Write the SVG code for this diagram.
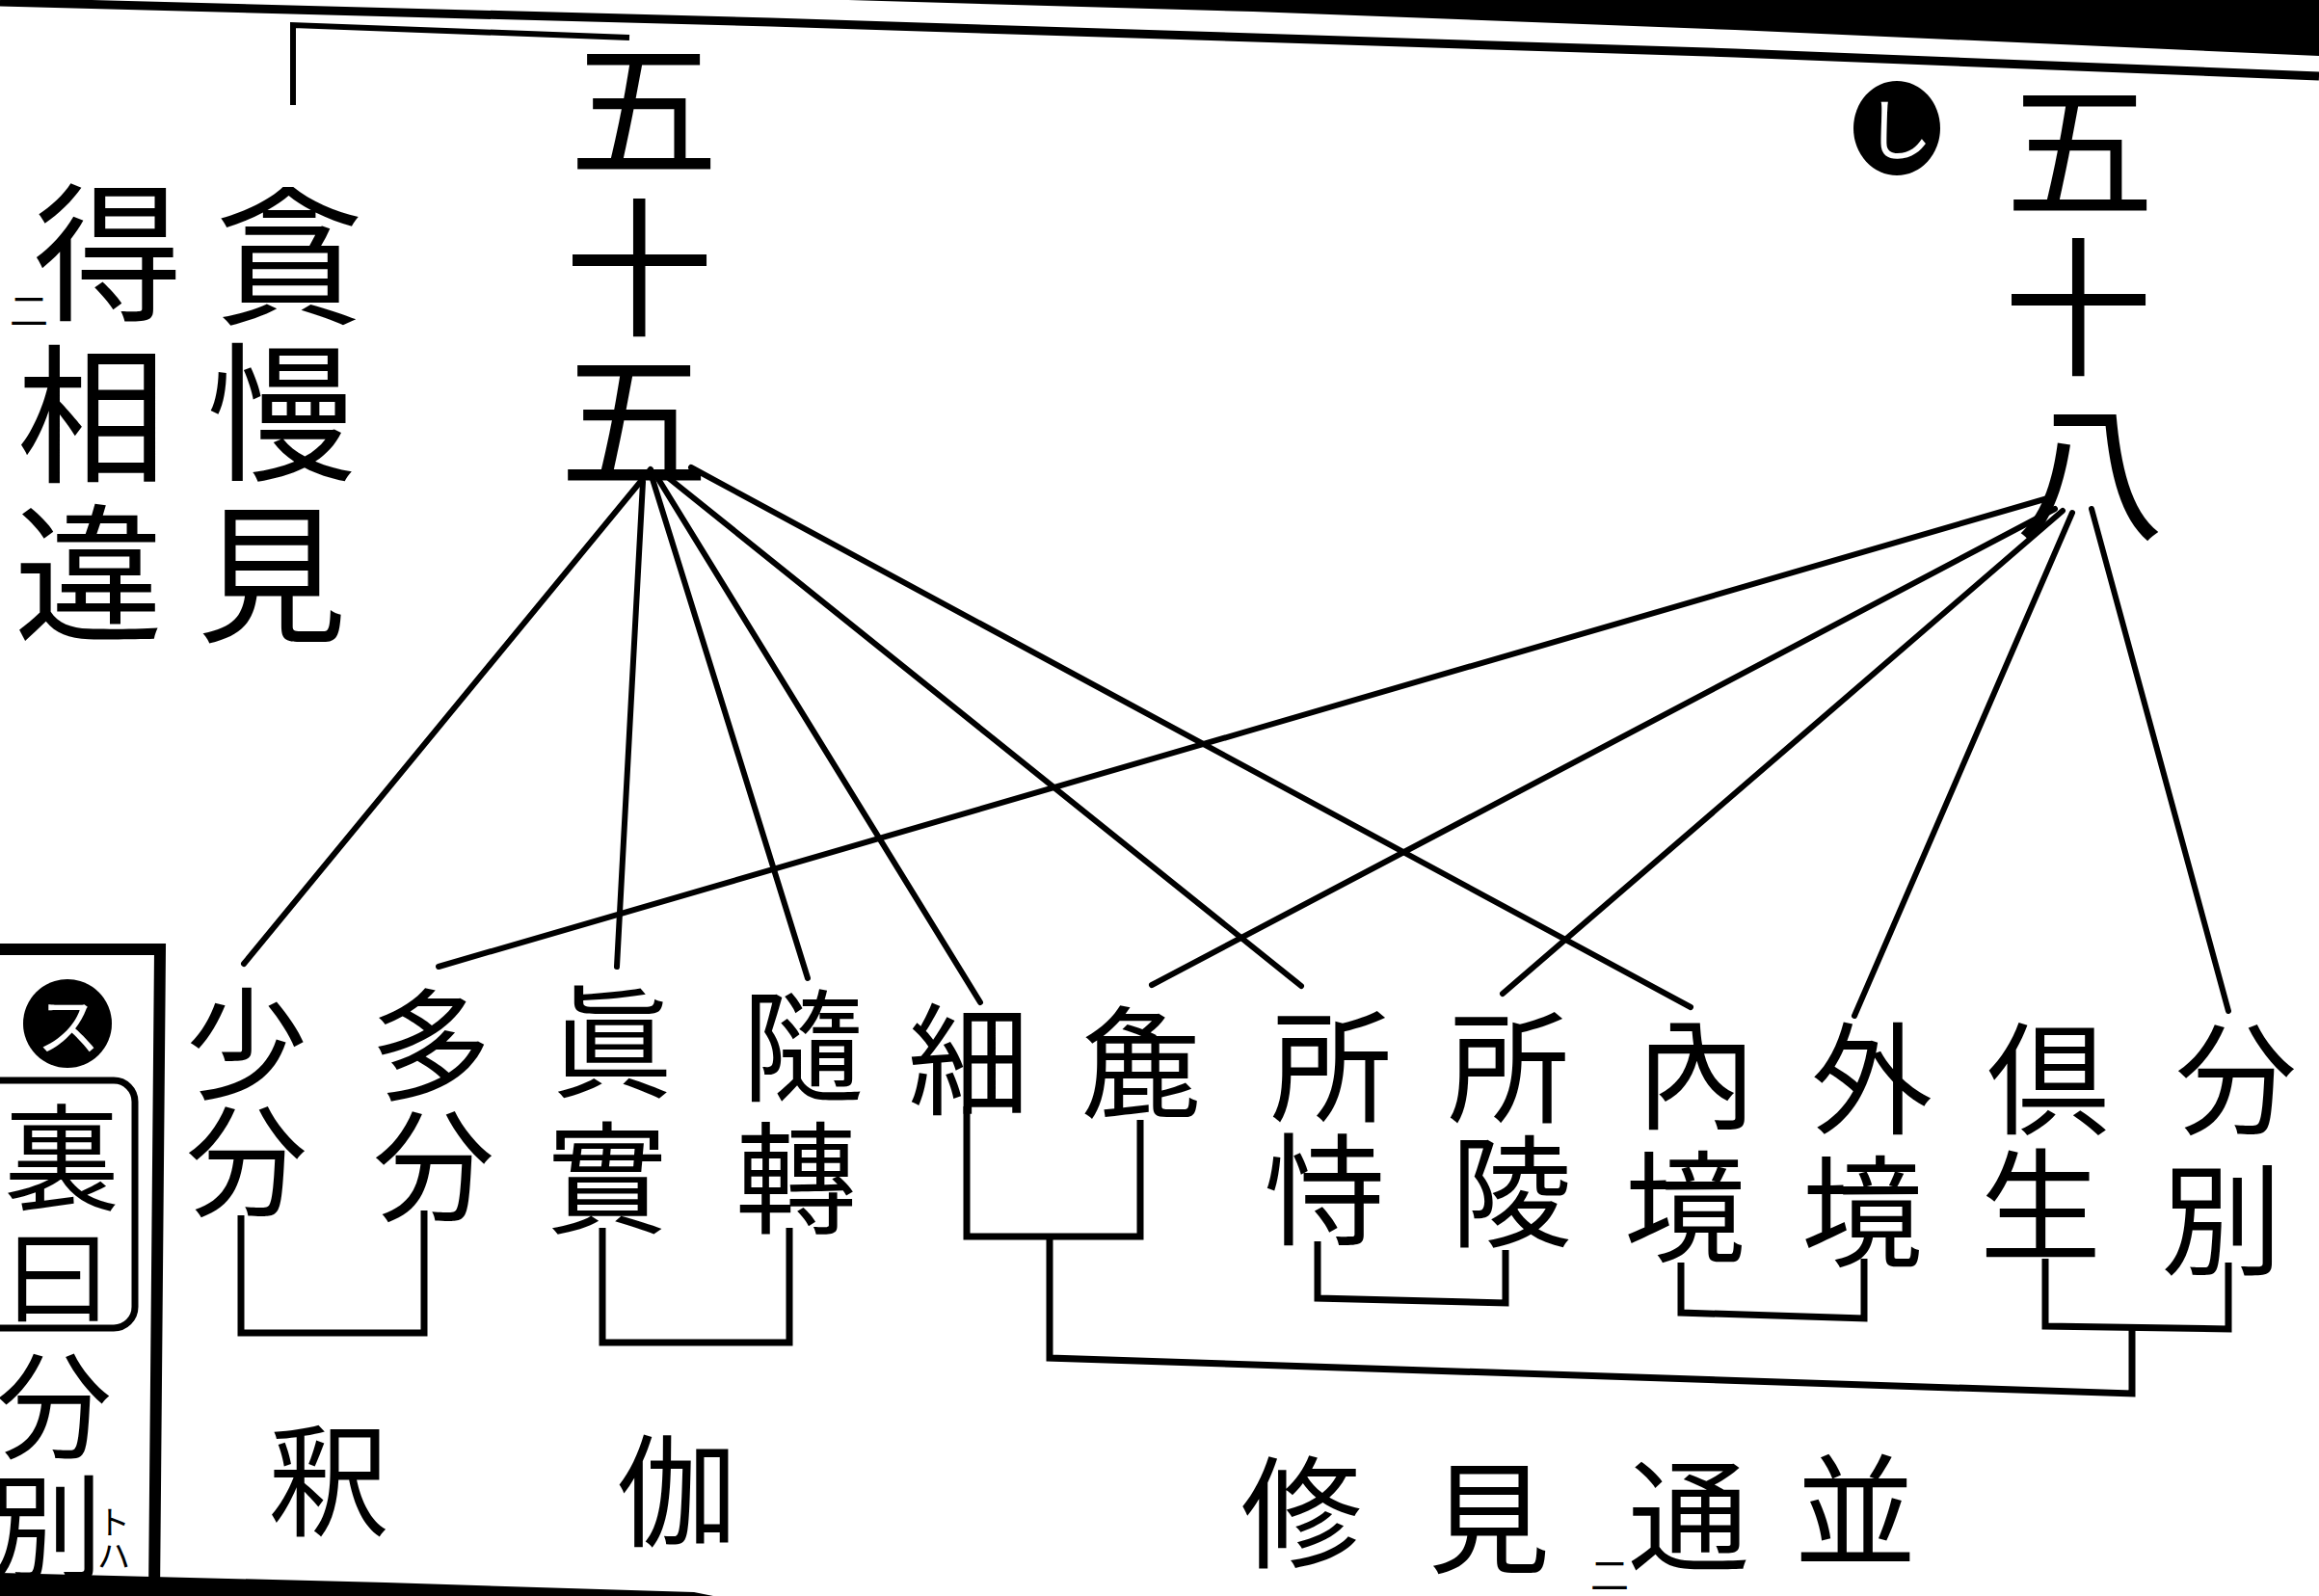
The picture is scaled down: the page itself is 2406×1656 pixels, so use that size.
<svg xmlns="http://www.w3.org/2000/svg" width="2406" height="1656" viewBox="0 0 2406 1656">
<style>
.t{font-family:"Noto Sans CJK JP","Noto Sans CJK SC",sans-serif;font-weight:400;fill:#000;text-anchor:middle;dominant-baseline:central}
.big{font-size:155px}
.lab{font-size:126px}
.sm{font-size:40px}
.ln{stroke:#000;stroke-width:6;fill:none;stroke-linecap:round}
.br{stroke:#000;stroke-width:7;fill:none;stroke-linejoin:miter}
</style>
<rect width="2406" height="1656" fill="#fff"/>
<g id="page">
<polygon points="880,0 2406,0 2406,58 1800,31 1300,12" fill="#000"/>
<polyline points="0,2 800,23 1800,55 2406,79" fill="none" stroke="#000" stroke-width="9"/>
<polygon points="0,1632 400,1642 720,1652 740,1656 0,1656" fill="#000"/>
<polyline points="304,109 304,26 653,39" fill="none" stroke="#000" stroke-width="6"/>
</g>
<g id="connectors">
<line class="ln" x1="675" y1="487" x2="253" y2="1000"/>
<line class="ln" x1="667" y1="500" x2="640" y2="1003"/>
<line class="ln" x1="677" y1="497" x2="838" y2="1015"/>
<line class="ln" x1="683" y1="497" x2="1017" y2="1040"/>
<line class="ln" x1="690" y1="493" x2="1350" y2="1023"/>
<line class="ln" x1="717" y1="485" x2="1754" y2="1045"/>
<line class="ln" x1="2128" y1="516" x2="455" y2="1003"/>
<line class="ln" x1="2132" y1="528" x2="1195" y2="1022"/>
<line class="ln" x1="2140" y1="530" x2="1559" y2="1031"/>
<line class="ln" x1="2150" y1="532" x2="1924" y2="1054"/>
<line class="ln" x1="2170" y1="528" x2="2312" y2="1049"/>
<path class="br" d="M250,1261 V1383 H440 V1256"/>
<path class="br" d="M625,1274 V1393 H819 V1274"/>
<path class="br" d="M1003,1148 V1283 H1183 V1162"/>
<path class="br" d="M1089,1283 V1409 L2212,1446 V1378"/>
<path class="br" d="M1367,1288 V1347 L1562,1352 V1297"/>
<path class="br" d="M1744,1310 V1362 L1934,1368 V1306"/>
<path class="br" d="M2122,1306 V1376 L2312,1379 V1310"/>
</g>
<g id="note-tonman">
<text class="t big" x="300" y="256">貪</text>
<text class="t big" x="292" y="418">慢</text>
<text class="t big" x="282" y="586">見</text>
</g>
<g id="note-tokuso">
<text class="t big" x="112" y="252">得</text>
<text class="t big" x="95" y="420">相</text>
<text class="t big" x="92" y="585">違</text>
<text class="t sm" x="30" y="320">二</text>
</g>
<g id="n55">
<text class="t big" x="668" y="103">五</text>
<text class="t big" x="663" y="268">十</text>
<text class="t big" x="658" y="426">五</text>
</g>
<g id="n58">
<ellipse cx="1968" cy="133" rx="45" ry="49" fill="#000"/>
<text class="t" style="font-size:70px;fill:#fff" x="1970" y="130">し</text>
<text class="t big" x="2158" y="146">五</text>
<text class="t big" x="2156" y="309">十</text>
<text class="t big" x="2168" y="480">八</text>
</g>
<g id="shobun"><text class="t lab" x="256" y="1076">少</text><text class="t lab" x="256" y="1197">分</text></g>
<g id="tabun"><text class="t lab" x="447" y="1077">多</text><text class="t lab" x="450" y="1202">分</text></g>
<g id="shinjitsu"><text class="t lab" x="635" y="1074">眞</text><text class="t lab" x="630" y="1215">實</text></g>
<g id="zuiten"><text class="t lab" x="833" y="1078">隨</text><text class="t lab" x="826" y="1215">轉</text></g>
<g id="sai"><text class="t lab" x="1005" y="1092">細</text></g>
<g id="so"><text class="t lab" x="1184" y="1095">麁</text></g>
<g id="shoji"><text class="t lab" x="1381" y="1099">所</text><text class="t lab" x="1374" y="1227">恃</text></g>
<g id="shoryo"><text class="t lab" x="1565" y="1100">所</text><text class="t lab" x="1568" y="1229">陵</text></g>
<g id="naikyo"><text class="t lab" x="1760" y="1107">內</text><text class="t lab" x="1748" y="1245">境</text></g>
<g id="gekyo"><text class="t lab" x="1942" y="1112">外</text><text class="t lab" x="1932" y="1250">境</text></g>
<g id="kusho"><text class="t lab" x="2125" y="1112">倶</text><text class="t lab" x="2117" y="1243">生</text></g>
<g id="funbetsu"><text class="t lab" x="2320" y="1112">分</text><text class="t lab" x="2305" y="1258">別</text></g>
<g id="note-shaku"><text class="t lab" x="341" y="1529">釈</text></g>
<g id="note-ka"><text class="t lab" x="702" y="1540">伽</text></g>
<g id="note-heitsu">
<text class="t lab" x="1350" y="1562">修</text>
<text class="t lab" x="1545" y="1568">見</text>
<text class="t sm" x="1670" y="1632">二</text>
<text class="t lab" x="1752" y="1565">通</text>
<text class="t lab" x="1925" y="1560">並</text>
</g>
<g id="urabox">
<polyline points="0,985 166,985 160,1656" fill="none" stroke="#000" stroke-width="12"/>
<circle cx="70" cy="1062" r="46" fill="#000"/>
<text class="t" style="font-size:66px;fill:#fff" x="71" y="1060">ス</text>
<rect x="-20" y="1121" width="160" height="257" rx="22" fill="none" stroke="#000" stroke-width="7"/>
<text class="t" style="font-size:120px" x="64" y="1195">裏</text>
<text class="t" style="font-size:110px" x="60" y="1317">曰</text>
<text class="t" style="font-size:120px" x="56" y="1452">分</text>
<text class="t" style="font-size:120px" x="47" y="1578">別</text>
<text class="t" style="font-size:34px" x="118" y="1577">ト</text>
<text class="t" style="font-size:34px" x="118" y="1612">ハ</text>
</g>
</svg>
